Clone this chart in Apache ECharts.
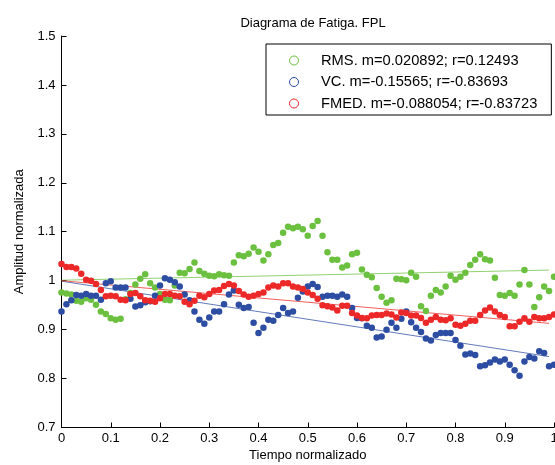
<!DOCTYPE html>
<html>
<head>
<meta charset="utf-8">
<script src="https://cdn.jsdelivr.net/npm/echarts@6/dist/echarts.min.js"></script>
<style>
html,body{margin:0;padding:0;background:#fff;}
#chart{width:555px;height:465px;}
</style>
</head>
<body>
<div id="chart"></div>
<script>
// Normalized time: 101 samples, 0 .. 1
var timeValues = [];
for (var i = 0; i <= 100; i++) { timeValues.push(i / 100); }

var rmsValues = [
0.976,0.974,0.972,0.959,0.957,0.964,0.961,0.951,0.937,0.932,
0.923,0.920,0.922,0.962,0.975,0.992,1.004,1.013,0.995,0.986,
0.973,0.961,0.960,0.990,1.016,1.015,1.024,1.037,1.020,1.014,
1.010,1.009,1.013,1.011,1.010,1.037,1.052,1.050,1.055,1.068,
1.059,1.041,1.054,1.073,1.077,1.098,1.110,1.107,1.110,1.105,
1.092,1.112,1.122,1.092,1.058,1.043,1.043,1.027,1.031,1.054,
1.057,1.023,1.012,1.007,0.985,0.967,0.955,0.960,1.004,1.003,
1.001,1.016,1.008,0.948,0.938,0.969,0.981,0.976,0.988,1.010,
1.002,1.008,1.016,1.032,1.043,1.054,1.044,1.041,1.006,0.971,
0.969,0.975,0.969,0.992,1.022,0.992,0.946,0.966,0.988,0.979,
1.008];

var vcValues = [
0.937,0.952,0.960,0.971,0.969,0.973,0.969,0.969,0.961,0.995,
0.999,0.986,0.986,0.986,0.963,0.947,0.950,0.956,0.958,0.969,
0.990,1.005,1.002,0.997,0.988,0.972,0.960,0.937,0.920,0.912,
0.925,0.937,0.937,0.952,0.972,0.980,0.951,0.944,0.946,0.914,
0.893,0.904,0.920,0.918,0.930,0.944,0.934,0.937,0.965,0.978,
0.988,0.993,0.987,0.967,0.969,0.969,0.967,0.972,0.967,0.944,
0.924,0.923,0.908,0.904,0.884,0.886,0.900,0.914,0.904,0.922,
0.937,0.915,0.904,0.895,0.882,0.878,0.889,0.893,0.893,0.893,
0.879,0.867,0.849,0.851,0.848,0.825,0.827,0.833,0.839,0.835,
0.839,0.828,0.817,0.806,0.835,0.844,0.841,0.856,0.852,0.825,
0.828];

var fmedValues = [
1.034,1.028,1.028,1.025,1.014,1.002,1.000,0.993,0.981,0.968,
0.969,0.968,0.961,0.960,0.973,0.975,0.968,0.960,0.959,0.957,
0.964,0.973,0.973,0.969,0.968,0.957,0.952,0.959,0.969,0.966,
0.973,0.980,0.981,0.989,0.993,0.990,0.979,0.972,0.967,0.969,
0.973,0.976,0.986,0.990,0.988,0.995,0.995,0.988,0.986,0.983,
0.976,0.971,0.963,0.950,0.948,0.945,0.939,0.949,0.949,0.934,
0.929,0.924,0.923,0.929,0.930,0.930,0.933,0.931,0.925,0.935,
0.934,0.929,0.929,0.924,0.914,0.920,0.926,0.920,0.919,0.923,
0.910,0.908,0.912,0.918,0.918,0.930,0.939,0.945,0.937,0.930,
0.926,0.907,0.907,0.916,0.923,0.916,0.926,0.923,0.923,0.926,
0.931];

// Linear fits (slope from legend, intercept)
var fitSlopes = { rms: 0.020892, vc: -0.15565, fmed: -0.088054 };
var fitIntercepts = { rms: 1.001, vc: 0.999, fmed: 1.000 };
var fitRange = [0, 0.99];

var seriesNames = [
  'RMS. m=0.020892; r=0.12493',
  'VC. m=-0.15565; r=-0.83693',
  'FMED. m=-0.088054; r=-0.83723'
];
var colors = ['#6cc040', '#2d4da3', '#ec2828'];
var yTicks = [0.7, 0.8, 0.9, 1.0, 1.1, 1.2, 1.3, 1.4, 1.5];
var xTicks = [0, 0.1, 0.2, 0.3, 0.4, 0.5, 0.6, 0.7, 0.8, 0.9, 1];

function pairs(vals) {
  return vals.map(function (v, k) { return [timeValues[k], v]; });
}
function fitLine(key) {
  return fitRange.map(function (x) { return [x, fitIntercepts[key] + fitSlopes[key] * x]; });
}

var FONT = 'Liberation Sans, Arial, Helvetica, sans-serif';
var chart = echarts.init(document.getElementById('chart'), null, { renderer: 'canvas' });

var lineKeys = ['rms', 'vc', 'fmed'];
var valueSets = [rmsValues, vcValues, fmedValues];
var series = [];
lineKeys.forEach(function (key, k) {
  series.push({
    name: key + '_fit', type: 'line', data: fitLine(key), symbol: 'none',
    silent: true, z: 1,
    lineStyle: { color: colors[k], width: 1, opacity: 0.75 }
  });
});
valueSets.forEach(function (vals, k) {
  series.push({
    name: seriesNames[k], type: 'scatter', data: pairs(vals),
    symbol: 'circle', symbolSize: 6.5, z: 2 + k,
    itemStyle: { color: colors[k], opacity: 1 }
  });
});

chart.setOption({
  animation: false,
  backgroundColor: '#fff',
  title: {
    text: 'Diagrama de Fatiga. FPL', left: 308, top: 12, textAlign: 'center',
    textStyle: { fontFamily: FONT, fontSize: 13, fontWeight: 'normal', color: '#000' }
  },
  legend: {
    orient: 'vertical', left: 266, top: 44,
    data: seriesNames.map(function (n, k) {
      return { name: n, icon: 'circle',
        itemStyle: { color: '#fff', borderColor: colors[k], borderWidth: 1 } };
    }),
    itemWidth: 44, itemHeight: 9, itemGap: 6.5,
    padding: [9, 14, 4, 23],
    borderColor: '#000', borderWidth: 1, backgroundColor: '#fff',
    textStyle: { fontFamily: FONT, fontSize: 14.7, color: '#000', lineHeight: 13 }
  },
  grid: { left: 61.5, right: 1, top: 36, bottom: 37.5, containLabel: false, outerBoundsMode: 'none' },
  xAxis: {
    type: 'value', min: 0, max: 1, interval: 0.1,
    name: 'Tiempo normalizado', nameLocation: 'middle', nameGap: 21,
    nameTextStyle: { fontFamily: FONT, fontSize: 13, color: '#000' },
    axisLine: { lineStyle: { color: '#000', width: 1 } },
    axisTick: { inside: true, length: 5, lineStyle: { color: '#000' } },
    axisLabel: { fontFamily: FONT, fontSize: 13, color: '#000', margin: 4,
      formatter: function (v) { return String(+v.toFixed(1)); } },
    splitLine: { show: false }
  },
  yAxis: {
    type: 'value', min: 0.7, max: 1.5, interval: 0.1,
    name: 'Amplitud normalizada', nameLocation: 'middle', nameGap: 36,
    nameTextStyle: { fontFamily: FONT, fontSize: 13, color: '#000' },
    axisLine: { show: true, lineStyle: { color: '#000', width: 1 } },
    axisTick: { show: true, inside: true, length: 5, lineStyle: { color: '#000' } },
    axisLabel: { fontFamily: FONT, fontSize: 13, color: '#000', margin: 6,
      formatter: function (v) { return String(+v.toFixed(1)); } },
    splitLine: { show: false }
  },
  series: series
});
</script>
</body>
</html>
